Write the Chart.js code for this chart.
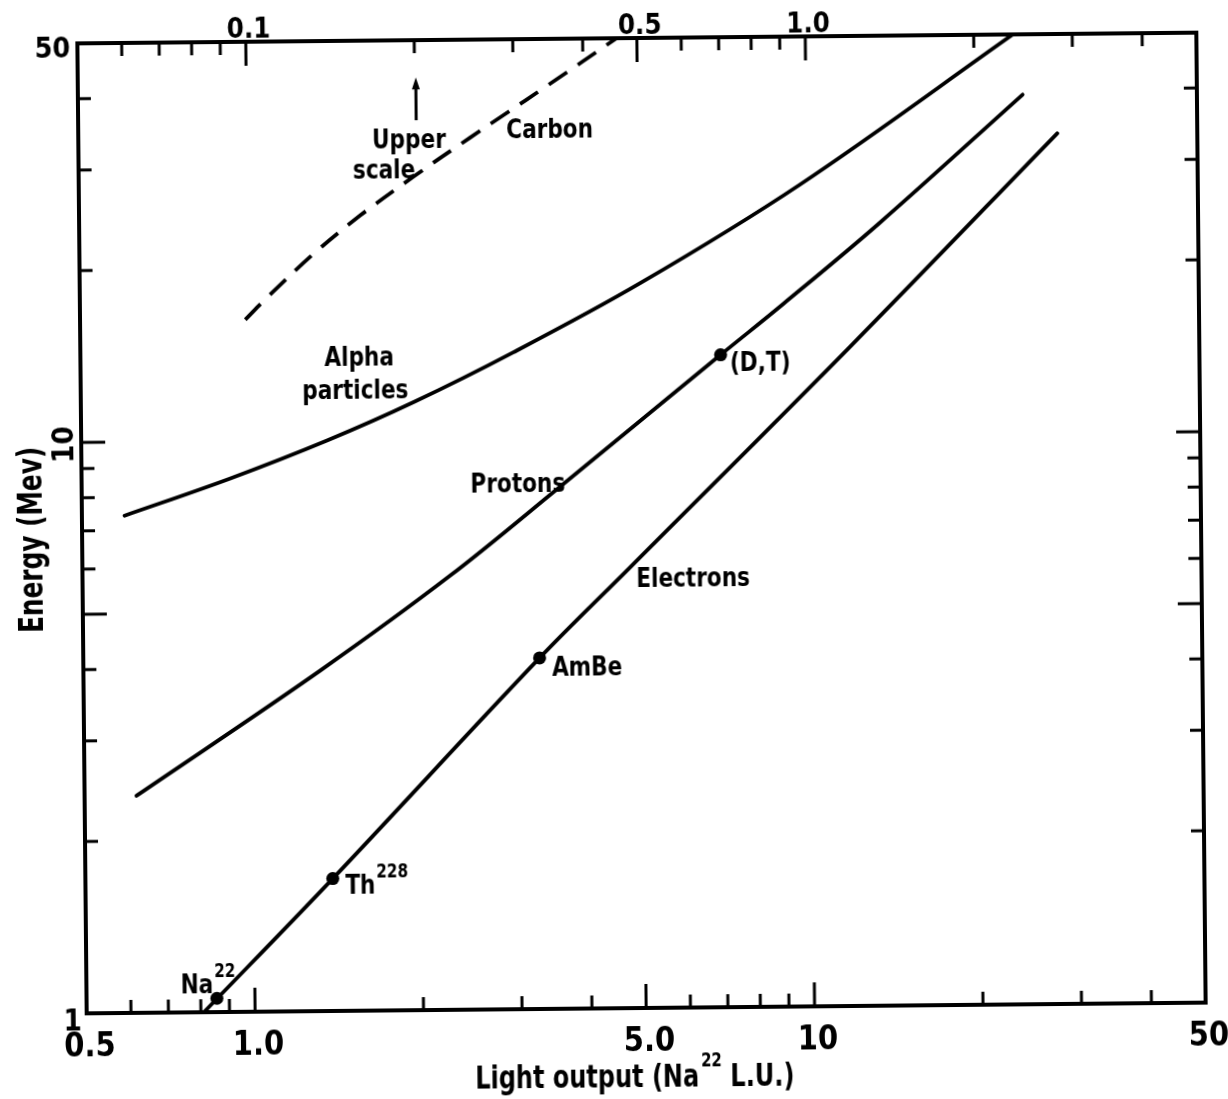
<!DOCTYPE html>
<html><head><meta charset="utf-8">
<script src="https://cdn.jsdelivr.net/npm/chart.js@4.4.1/dist/chart.umd.min.js"></script>
<style>
html,body{margin:0;padding:0;background:#fff;}
#wrap{position:relative;width:1228px;height:1099px;overflow:hidden;background:#fff;}
#chart{position:absolute;left:0;top:0;transform:rotate(-0.55deg);transform-origin:641.5px 523px;}
</style></head><body>
<div id="wrap"><canvas id="chart" width="1228" height="1099"></canvas></div>
<script>
// Energy (MeV) against light output (Na22 light units) for several particles
const electronsLight  = [0.81, 1.384, 3.27, 4.74, 11.86, 28.1];
const electronsEnergy = [1.0, 1.706, 4.12, 5.89, 14.26, 33.5];
const protonsLight  = [0.619, 1.326, 2.27, 3.58, 6.97, 9.03, 13.48, 24.4];
const protonsEnergy = [2.40, 3.95, 5.76, 8.21, 13.89, 17.0, 23.5, 39.2];
const alphaLight  = [0.596, 0.92, 1.375, 1.97, 2.97, 5.02, 9.72, 23.5];
const alphaEnergy = [7.43, 8.59, 9.98, 11.62, 14.14, 18.6, 27.5, 50];
// carbon is read against the upper scale (light output / 10)
const carbonLight  = [0.0987, 0.108, 0.131, 0.159, 0.198, 0.251, 0.284, 0.349, 0.46];
const carbonEnergy = [16.3, 17.8, 21.2, 24.7, 28.8, 33.7, 36.5, 41.7, 50];
// calibration sources
const sourceNames  = ['Na', 'Th', 'AmBe', '(D,T)'];
const sourceMass   = ['22', '228', '', ''];
const sourceLight  = [0.855, 1.384, 3.27, 6.97];
const sourceEnergy = [1.057, 1.706, 4.12, 13.89];

// axis ticks
const xMinorTicks  = [0.6, 0.7, 0.8, 0.9, 2, 3, 4, 6, 7, 8, 9, 20, 30, 40];
const xMajorTicks  = [1, 5, 10];
const x2MinorTicks = [0.06, 0.07, 0.08, 0.09, 0.2, 0.3, 0.4, 0.6, 0.7, 0.8, 0.9, 2, 3, 4];
const x2MajorTicks = [0.1, 0.5, 1];
const yMinorTicks  = [2, 3, 4, 6, 7, 8, 9, 20, 30, 40];
const yMajorTicks  = [5, 10];
const xTickValues  = [0.5, 1, 5, 10, 50];
const xTickLabels  = ['0.5', '1.0', '5.0', '10', '50'];
const x2TickValues = [0.1, 0.5, 1];
const x2TickLabels = ['0.1', '0.5', '1.0'];
const yTickValues  = [50, 10, 1];
const yTickLabels  = ['50', '10', '1'];

const FONT = '"DejaVu Sans", sans-serif';
const font = (s) => 'bold ' + s + 'px ' + FONT;
const NARROW = 0.8;   // horizontal squeeze for lettering
const TITLE = 0.75;   // horizontal squeeze for axis titles
const DIGITS = 0.88;  // horizontal squeeze for tick numbers

// curve labels, placed in data units of the lower scale
const curveNotes = [
  {text: 'Upper',     x: 1.95,  y: 33.7},
  {text: 'scale',     x: 1.758, y: 29.8},
  {text: 'Carbon',    x: 3.48,  y: 34.9},
  {text: 'Alpha',     x: 1.575, y: 14.03},
  {text: 'particles', x: 1.548, y: 12.29},
  {text: 'Protons',   x: 3.01,  y: 8.37},
  {text: 'Electrons', x: 6.17,  y: 5.67}
];
// left edge of each source name
const sourceNoteAt = [[0.737, 1.121], [1.457, 1.664], [3.44, 3.99], [7.24, 13.53]];

const pts = (xs, ys) => xs.map((v, i) => ({x: v, y: ys[i]}));
const curve = {borderColor: '#000', borderWidth: 3.8, pointRadius: 0, fill: false,
               tension: 0.35, borderCapStyle: 'round'};

// text squeezed horizontally by sx, vertically centred on the cap height
function text(ctx, s, x, yMid, size, align, sx) {
  ctx.save();
  ctx.font = font(size);
  ctx.textAlign = align;
  ctx.textBaseline = 'alphabetic';
  ctx.translate(x, yMid + size * 0.36);
  ctx.scale(sx, 1);
  ctx.fillText(s, 0, 0);
  ctx.restore();
}
function width(ctx, s, size, sx) {
  ctx.font = font(size);
  return ctx.measureText(s).width * sx;
}
function textSup(ctx, base, sup, x, yMid, size, supSize, align, sx) {
  const wb = width(ctx, base, size, sx);
  const ws = sup ? width(ctx, sup, supSize, sx) + 1 : 0;
  const left = align === 'center' ? x - (wb + ws) / 2 : x;
  text(ctx, base, left, yMid, size, 'left', sx);
  if (sup) text(ctx, sup, left + wb + 1, yMid - size * 0.5, supSize, 'left', sx);
}

const decor = {
  id: 'decor',
  afterDraw(chart) {
    const {ctx, chartArea: a, scales} = chart;
    const x = scales.x, x2 = scales.x2, y = scales.y;
    const SHORT = 13, LONG = 24;
    ctx.save();
    ctx.strokeStyle = '#000';
    ctx.fillStyle = '#000';
    // frame
    ctx.lineWidth = 4;
    ctx.lineJoin = 'miter';
    ctx.strokeRect(a.left, a.top, a.right - a.left, a.bottom - a.top);
    // ticks point into the plot
    ctx.lineWidth = 3;
    const seg = (x1, y1, xb, yb) => { ctx.beginPath(); ctx.moveTo(x1, y1); ctx.lineTo(xb, yb); ctx.stroke(); };
    xMinorTicks.forEach(v => { const p = x.getPixelForValue(v); seg(p, a.bottom, p, a.bottom - SHORT); });
    xMajorTicks.forEach(v => { const p = x.getPixelForValue(v); seg(p, a.bottom, p, a.bottom - LONG); });
    x2MinorTicks.forEach(v => { const p = x2.getPixelForValue(v); seg(p, a.top, p, a.top + SHORT); });
    x2MajorTicks.forEach(v => { const p = x2.getPixelForValue(v); seg(p, a.top, p, a.top + LONG); });
    yMinorTicks.forEach(v => { const p = y.getPixelForValue(v); seg(a.left, p, a.left + SHORT, p); seg(a.right, p, a.right - SHORT, p); });
    yMajorTicks.forEach(v => { const p = y.getPixelForValue(v); seg(a.left, p, a.left + LONG, p); seg(a.right, p, a.right - LONG, p); });

    // tick labels
    xTickValues.forEach((v, i) => text(ctx, xTickLabels[i], x.getPixelForValue(v) + 3, a.bottom + 31, 33, 'center', DIGITS));
    x2TickValues.forEach((v, i) => text(ctx, x2TickLabels[i], x2.getPixelForValue(v) + 3, a.top - 14, 28, 'center', DIGITS));
    yTickValues.forEach((v, i) => {
      const p = y.getPixelForValue(v);
      const s = yTickLabels[i];
      if (s === '10') {
        ctx.save();
        ctx.translate(a.left - 19, p + 2);
        ctx.rotate(-Math.PI / 2);
        text(ctx, s, 0, 0, 30, 'center', DIGITS);
        ctx.restore();
      } else if (s === '1') {
        text(ctx, s, a.left - 14, p + 6, 30, 'center', DIGITS);
      } else {
        text(ctx, s, a.left - 25, p + 4, 29, 'center', DIGITS);
      }
    });

    // axis titles
    const t1 = 'Light output (Na', t2 = ' L.U.)';
    const T = 32, TS = 20;
    const w1 = width(ctx, t1, T, TITLE), w2 = width(ctx, t2, T, TITLE), ws = width(ctx, '22', TS, TITLE);
    const total = w1 + ws + 2 + w2;
    const lx = (a.left + a.right) / 2 - 12 - total / 2;
    const my = a.bottom + 67;
    text(ctx, t1, lx, my, T, 'left', TITLE);
    text(ctx, '22', lx + w1 + 2, my - 15, TS, 'left', TITLE);
    text(ctx, t2, lx + w1 + ws + 2, my, T, 'left', TITLE);

    ctx.save();
    ctx.translate(a.left - 52, (a.top + a.bottom) / 2 + 11);
    ctx.rotate(-Math.PI / 2);
    text(ctx, 'Energy (Mev)', 0, 0, 33, 'center', TITLE);
    ctx.restore();

    // curve labels
    curveNotes.forEach(n => text(ctx, n.text, x.getPixelForValue(n.x), y.getPixelForValue(n.y), 27, 'center', NARROW));

    // arrow pointing to the upper scale
    const ax = x.getPixelForValue(2.01);
    const ay0 = y.getPixelForValue(36.2), ay1 = y.getPixelForValue(42.7);
    ctx.lineWidth = 3;
    seg(ax, ay0, ax, ay1 + 6);
    ctx.beginPath();
    ctx.moveTo(ax, ay1 - 2);
    ctx.lineTo(ax - 4, ay1 + 10);
    ctx.lineTo(ax + 4, ay1 + 10);
    ctx.closePath();
    ctx.fill();

    // source names
    sourceNames.forEach((nm, i) => {
      const px = x.getPixelForValue(sourceNoteAt[i][0]);
      const py = y.getPixelForValue(sourceNoteAt[i][1]);
      textSup(ctx, nm, sourceMass[i], px, py, 27, 19, 'left', NARROW);
    });
    ctx.restore();
  }
};

new Chart(document.getElementById('chart'), {
  type: 'line',
  data: {
    datasets: [
      Object.assign({label: 'Electrons', data: pts(electronsLight, electronsEnergy)}, curve),
      Object.assign({label: 'Protons', data: pts(protonsLight, protonsEnergy)}, curve),
      Object.assign({label: 'Alpha particles', data: pts(alphaLight, alphaEnergy)}, curve),
      Object.assign({label: 'Carbon', data: pts(carbonLight, carbonEnergy), xAxisID: 'x2',
                     borderDash: [22, 13]}, curve, {borderCapStyle: 'butt'}),
      {label: 'Sources', data: pts(sourceLight, sourceEnergy), showLine: false,
       pointRadius: 6.5, pointBackgroundColor: '#000', pointBorderWidth: 0, borderColor: '#000'}
    ]
  },
  options: {
    responsive: false,
    animation: false,
    devicePixelRatio: 1,
    layout: {padding: {left: 82, right: 27, top: 38, bottom: 91}},
    plugins: {legend: {display: false}, tooltip: {enabled: false}},
    scales: {
      x:  {type: 'logarithmic', min: 0.5, max: 50, display: false},
      x2: {type: 'logarithmic', position: 'top', min: 0.05, max: 5, display: false},
      y:  {type: 'logarithmic', min: 1, max: 50, display: false}
    }
  },
  plugins: [decor]
});
</script>
</body></html>
